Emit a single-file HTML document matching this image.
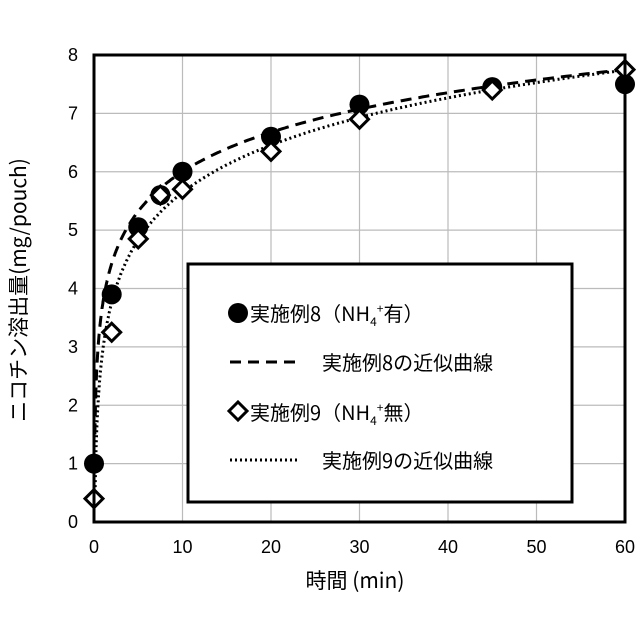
<!DOCTYPE html>
<html><head><meta charset="utf-8"><style>
body{margin:0;background:#fff;}
svg{display:block;font-family:"Liberation Sans","Noto Sans CJK JP",sans-serif;}
.cjk{font-family:"Noto Sans CJK JP","Liberation Sans",sans-serif;}
</style></head><body>
<svg id="chart" width="640" height="640" viewBox="0 0 640 640">
<g id="grid"></g>
<g id="curves"></g>
<g id="marks"></g>
<rect x="94" y="55" width="531" height="467" fill="none" stroke="#000" stroke-width="3"/>
<g id="ticks"></g>
<text x="355" y="588" font-size="21" text-anchor="middle" class="cjk">時間 (min)</text>
<text transform="translate(26,290) rotate(-90)" font-size="21" text-anchor="middle" class="cjk">ニコチン溶出量(mg/pouch)</text>
<g>
<rect x="188" y="264" width="384" height="238" fill="#fff" stroke="#000" stroke-width="3"/>
<circle cx="238" cy="313" r="10" fill="#000"/>
<text x="250" y="321" font-size="20" class="cjk">実施例8（NH<tspan font-size="12" dy="5">4</tspan><tspan font-size="12" dy="-13">+</tspan><tspan dy="8">有）</tspan></text>
<line x1="230" y1="362" x2="297" y2="362" stroke="#000" stroke-width="3" stroke-dasharray="11,7"/>
<text x="322" y="370" font-size="20" class="cjk">実施例8の近似曲線</text>
<path d="M238,402 L247,411 L238,420 L229,411 Z" fill="#fff" stroke="#000" stroke-width="3"/>
<text x="250" y="420" font-size="20" class="cjk">実施例9（NH<tspan font-size="12" dy="5">4</tspan><tspan font-size="12" dy="-13">+</tspan><tspan dy="8">無）</tspan></text>
<line x1="230" y1="460" x2="297" y2="460" stroke="#000" stroke-width="3" stroke-dasharray="2,3"/>
<text x="322" y="468" font-size="20" class="cjk">実施例9の近似曲線</text>
</g>
</svg>
<script>
const times = [0, 2, 5, 7.5, 10, 20, 30, 45, 60];
const ex8Values = [1.0, 3.9, 5.05, 5.6, 6.0, 6.6, 7.15, 7.45, 7.5];
const ex9Values = [0.4, 3.25, 4.85, 5.6, 5.7, 6.35, 6.9, 7.4, 7.75];
const ex8Fit = [0.977, 3.75];
const ex9Fit = [1.17, 2.95];
const xTicks = [0, 10, 20, 30, 40, 50, 60];
const yTicks = [0, 1, 2, 3, 4, 5, 6, 7, 8];
const NS = "http://www.w3.org/2000/svg";
const X = v => 94 + v / 60 * 531;
const Y = v => 522 - v / 8 * 467;
function mk(tag, attrs, parent){const e=document.createElementNS(NS,tag);for(const k in attrs)e.setAttribute(k,attrs[k]);parent.appendChild(e);return e;}
const grid=document.getElementById('grid'), ticks=document.getElementById('ticks'), curves=document.getElementById('curves'), marks=document.getElementById('marks');
xTicks.forEach(t=>{
  const l=mk('line',{x1:X(t),x2:X(t),y1:55,y2:522,stroke:'#bbb','stroke-width':1.2},grid);
  
  
  const tx=mk('text',{x:X(t),y:553,'font-size':18,'text-anchor':'middle'},ticks);
  tx.textContent=t;
  
  
});
yTicks.forEach(t=>{
  const l=mk('line',{x1:94,x2:625,y1:Y(t),y2:Y(t),stroke:'#bbb','stroke-width':1.2},grid);
  
  
  const tx=mk('text',{x:78,y:Y(t)+6,'font-size':18,'text-anchor':'end'},ticks);
  tx.textContent=t;
  
  
});
function curve(fit, dash, name){
  let d='';
  for(let i=0;i<=600;i++){
    const t=0.1*Math.pow(600,i/600);
    let v=Math.max(0,fit[0]*Math.log(t)+fit[1]);
    d+=(i?'L':'M')+X(t).toFixed(1)+','+Y(v).toFixed(1);
  }
  const p=mk('path',{d:d,fill:'none',stroke:'#000','stroke-width':3,'stroke-dasharray':dash},curves);
  
  
}
curve(ex8Fit,'11,7','ex8-fit-curve');
curve(ex9Fit,'2,3','ex9-fit-curve');
times.forEach((t,i)=>{
  const c=mk('circle',{cx:X(t),cy:Y(ex8Values[i]),r:10,fill:'#000'},marks);
  
  
});
times.forEach((t,i)=>{
  const x=X(t),y=Y(ex9Values[i]);
  const p=mk('path',{d:`M${x},${y-9}L${x+9},${y}L${x},${y+9}L${x-9},${y}Z`,fill:'#fff',stroke:'#000','stroke-width':3},marks);
  
  
});
</script>
</body></html>
